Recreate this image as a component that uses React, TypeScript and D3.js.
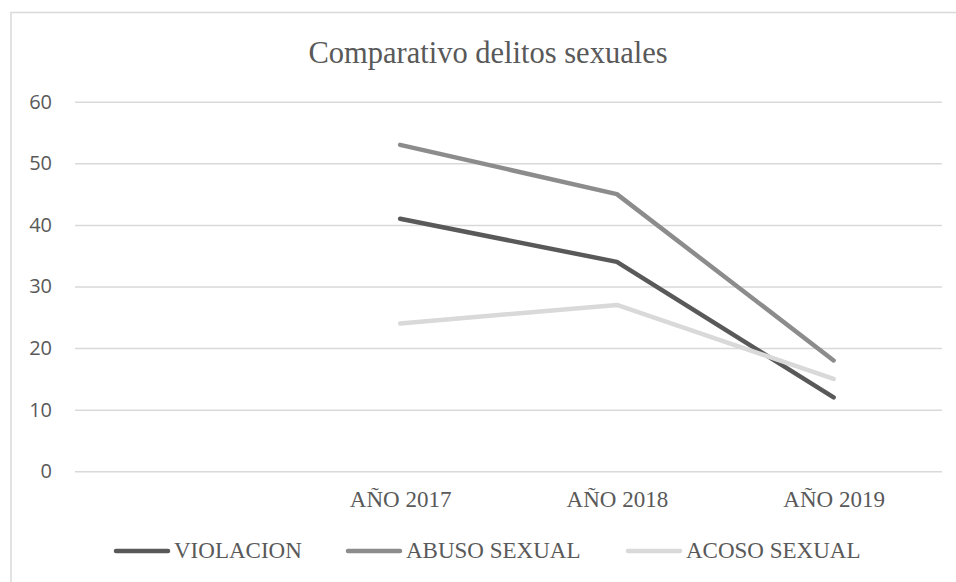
import React, { useRef, useEffect } from 'react';
import * as d3 from 'd3';

const categories = ['', 'AÑO 2017', 'AÑO 2018', 'AÑO 2019'];
const years = ['AÑO 2017', 'AÑO 2018', 'AÑO 2019'];
const violacion = [41, 34, 12];
const abusoSexual = [53, 45, 18];
const acosoSexual = [24, 27, 15];
const yTicks = [0, 10, 20, 30, 40, 50, 60];

const seriesNames = ['VIOLACION', 'ABUSO SEXUAL', 'ACOSO SEXUAL'];
const seriesColors = ['#595959', '#8c8c8c', '#d9d9d9'];

const W = 956;
const H = 582;

function App() {
  const svgRef = useRef<SVGSVGElement | null>(null);

  useEffect(() => {
    const series = [violacion, abusoSexual, acosoSexual].map((vals, i) => ({
      name: seriesNames[i],
      color: seriesColors[i],
      items: years.map((y, j) => ({ cat: y, value: vals[j] })),
    }));

    const xScale = d3.scalePoint<string>().domain(categories).range([75, 942]).padding(0.5);
    const yScale = d3.scaleLinear().domain([0, 60]).range([471.3, 101.7]);

    const svg = d3.select(svgRef.current);
    svg.selectAll('*').remove();

    svg.append('rect').attr('width', W).attr('height', H).attr('fill', '#fff');

    // chart border
    svg
      .append('rect')
      .attr('x', 11)
      .attr('y', 12.5)
      .attr('width', W + 20)
      .attr('height', H + 20)
      .attr('fill', 'none')
      .attr('stroke', '#d9d9d9')
      .attr('stroke-width', 1.5);

    svg
      .append('text')
      .attr('x', 488)
      .attr('y', 63)
      .attr('text-anchor', 'middle')
      .attr('font-family', '"Liberation Serif", "Times New Roman", serif')
      .attr('font-size', 30.5)
      .attr('fill', '#595959')
      .text('Comparativo delitos sexuales');

    const yAxis = d3
      .axisLeft(yScale)
      .tickValues(yTicks)
      .tickSize(-(942 - 75))
      .tickPadding(23);

    const yAxisGroup = svg.append('g').attr('transform', 'translate(75,0)').call(yAxis);
    yAxisGroup.select('.domain').remove();
    yAxisGroup.selectAll('line').attr('stroke', '#d9d9d9').attr('stroke-width', 1.5);
    yAxisGroup
      .selectAll('text')
      .attr('fill', '#595959')
      .attr('font-family', '"Open Sans", sans-serif')
      .attr('font-size', 20);

    const xAxis = d3.axisBottom(xScale).tickSize(0).tickPadding(0);
    const xAxisGroup = svg.append('g').attr('transform', 'translate(0,490)').call(xAxis);
    xAxisGroup.select('.domain').remove();
    xAxisGroup
      .selectAll('text')
      .attr('dy', '0.75em')
      .attr('fill', '#595959')
      .attr('font-family', '"Liberation Serif", "Times New Roman", serif')
      .attr('font-size', 23);

    const line = d3
      .line<{ cat: string; value: number }>()
      .x((d) => xScale(d.cat) as number)
      .y((d) => yScale(d.value));

    svg
      .selectAll('.series')
      .data(series)
      .enter()
      .append('path')
      .attr('class', 'series')
      .attr('fill', 'none')
      .attr('stroke', (d) => d.color)
      .attr('stroke-width', 4.5)
      .attr('stroke-linecap', 'round')
      .attr('stroke-linejoin', 'round')
      .attr('d', (d) => line(d.items));

    // legend
    const legendX = [116, 348, 628];
    const legend = svg
      .selectAll('.legend')
      .data(series)
      .enter()
      .append('g')
      .attr('class', 'legend')
      .attr('transform', (d, i) => `translate(${legendX[i]},551)`);

    legend
      .append('line')
      .attr('x1', 0)
      .attr('x2', 52)
      .attr('stroke', (d) => d.color)
      .attr('stroke-width', 4.5)
      .attr('stroke-linecap', 'round');

    legend
      .append('text')
      .attr('x', 58)
      .attr('y', 6.5)
      .attr('fill', '#595959')
      .attr('font-family', '"Liberation Serif", "Times New Roman", serif')
      .attr('font-size', 23)
      .text((d) => d.name);
  }, []);

  return (
    <svg
      ref={svgRef}
      width={W}
      height={H}
      style={{ position: 'absolute', left: 0, top: 0, display: 'block' }}
    />
  );
}

export default App;
